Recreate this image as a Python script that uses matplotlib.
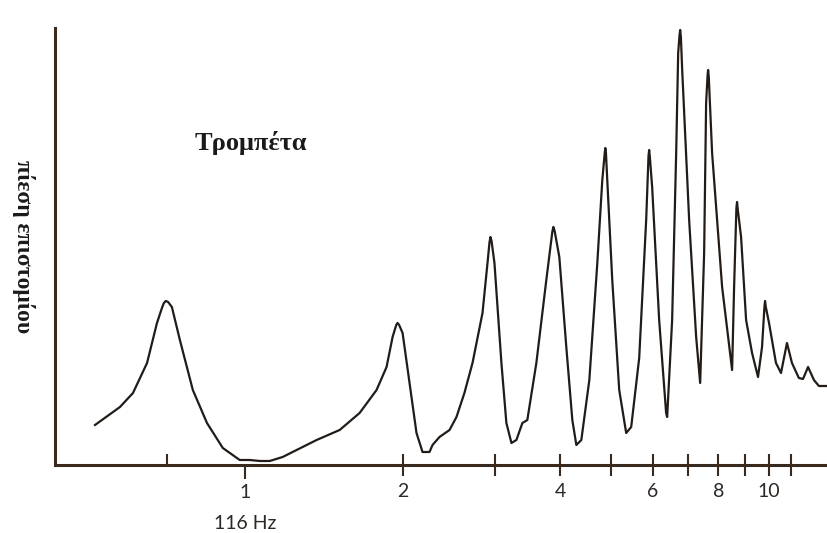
import numpy as np
import matplotlib
matplotlib.use("Agg")
import matplotlib.pyplot as plt
import matplotlib.transforms as mtransforms

# frequency as multiple of 116 Hz
freq = [0.518, 0.578, 0.612, 0.651, 0.680, 0.695, 0.701, 0.707, 0.714, 0.726,
        0.752, 0.796, 0.847, 0.908, 0.978, 1.022, 1.068, 1.116, 1.181, 1.371,
        1.517, 1.656, 1.784, 1.864, 1.914, 1.945, 1.956, 1.970, 2.000, 2.062,
        2.126, 2.183, 2.251, 2.281, 2.352, 2.458, 2.534, 2.624, 2.719, 2.841,
        2.904, 2.930, 2.942, 2.956, 2.994, 3.087, 3.155, 3.226, 3.297, 3.385,
        3.459, 3.599, 3.760, 3.860, 3.878, 3.900, 3.981, 4.105, 4.215, 4.290,
        4.385, 4.542, 4.704, 4.808, 4.860, 4.872, 4.886, 4.914, 5.023, 5.179,
        5.340, 5.459, 5.654, 5.830, 5.890, 5.907, 5.925, 5.985, 6.172, 6.364,
        6.393, 6.534, 6.651, 6.710, 6.750, 6.769, 6.790, 6.829, 7.041, 7.261,
        7.390, 7.520, 7.586, 7.635, 7.653, 7.675, 7.788, 8.138, 8.503, 8.578,
        8.665, 8.690, 8.715, 8.845, 9.042, 9.282, 9.528, 9.698, 9.800, 9.827,
        9.860, 10.0, 10.31, 10.54, 10.82, 11.06, 11.40, 11.61, 11.87, 12.18,
        12.45, 12.84]
# input pressure, arbitrary units
pressure = [40, 58, 72, 102, 142, 157, 162, 164, 163, 158,
            125, 75, 42, 17, 5, 5, 4, 4, 8, 25,
            35, 52, 75, 98, 128, 140, 142, 140, 132, 82,
            32, 13, 13, 20, 28, 35, 48, 72, 102, 152,
            202, 223, 228, 224, 202, 102, 42, 22, 25, 42,
            45, 102, 185, 233, 238, 234, 208, 118, 45, 20,
            25, 85, 202, 285, 312, 317, 312, 285, 185, 75,
            32, 38, 107, 245, 309, 315, 308, 278, 145, 52,
            48, 145, 312, 412, 430, 435, 428, 395, 245, 128,
            82, 212, 362, 390, 395, 388, 312, 178, 95, 178,
            257, 263, 256, 228, 145, 112, 88, 118, 158, 164,
            158, 142, 102, 92, 122, 102, 87, 86, 98, 85,
            79, 79]

major_ticks = [2, 3, 4, 5, 6, 7, 8, 9, 10, 11]
major_labels = ['2', '', '4', '', '6', '', '8', '', '10', '']
axis_col = '#3a2a1e'
line_col = '#221c18'
text_col = '#2e2824'

fig = plt.figure(figsize=(8.27, 5.33), dpi=100)
ax = fig.add_axes([0.0665, 0.1276, 0.9335, 0.8199])

ax.plot(freq, pressure, color=line_col, linewidth=1.6,
        solid_joinstyle='round')
ax.set_xscale('log')
ax.set_xlim(0.4345, 12.9)
ax.set_ylim(0, 437)

for s in ['top', 'right']:
    ax.spines[s].set_visible(False)
for s in ['left', 'bottom']:
    ax.spines[s].set_color(axis_col)
    ax.spines[s].set_linewidth(2.2)

ax.set_yticks([])
ax.set_xticks(major_ticks)
ax.set_xticklabels(major_labels)
ax.set_xticks([1], minor=True)
ax.set_xticklabels(['1'], minor=True)
ax.tick_params(axis='x', which='major', direction='inout', length=16,
               width=1.5, color=axis_col, pad=5, labelsize=14,
               labelcolor=text_col)
ax.tick_params(axis='x', which='minor', direction='out', length=10,
               width=1.5, color=axis_col, pad=4, labelsize=14,
               labelcolor=text_col)
for lab in ax.get_xticklabels() + ax.get_xticklabels(minor=True):
    lab.set_family('Lato')

# short inward tick at the first resonance
ax.axvline(0.71, ymin=0, ymax=0.023, color=axis_col, linewidth=1.5)

trans = mtransforms.blended_transform_factory(ax.transData, ax.transAxes)
ax.text(1, -0.135, '116 Hz', transform=trans, ha='center', va='center',
        fontsize=14, family='Lato', color=text_col)

ax.text(0.181, 0.737, 'Τρομπέτα', transform=ax.transAxes, ha='left',
        va='center', fontsize=19, fontweight='bold',
        family='Liberation Serif', color='#1a1a1a')

fig.text(0.029, 0.537, 'πίεση επιστομίου', rotation=270, ha='center',
         va='center', fontsize=17, fontweight='bold',
         family='Liberation Serif', color='#1a1a1a')

fig.savefig('out.png', dpi=100)
